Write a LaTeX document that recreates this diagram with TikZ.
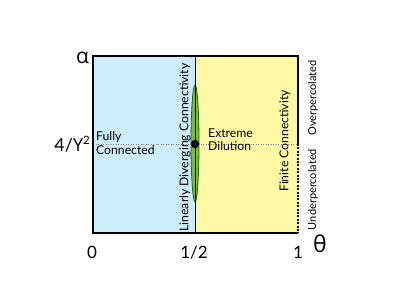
\documentclass[tikz,border=0pt]{standalone}
\usepackage{fontspec}
\setmainfont{Lato}
\newfontfamily\grk{Open Sans}
\usetikzlibrary{shapes.geometric}
\begin{document}
\begin{tikzpicture}[x=1pt,y=-1pt,
  lbl/.style={font=\fontsize{12.2}{13.5}\selectfont, inner sep=0pt},
  small/.style={font=\fontsize{11}{12}\selectfont, inner sep=0pt},
  num/.style={font=\fontsize{17}{18}\selectfont, inner sep=0pt},
  edge/.style={line width=1.2pt, black}]
\useasboundingbox (0,0) rectangle (399,299);
\definecolor{lblue}{HTML}{CDEDFC}
\definecolor{lyellow}{HTML}{FFF9A6}
\definecolor{egreen}{HTML}{7DB842}
\definecolor{dgreen}{HTML}{2F5E1A}
\coordinate (tl) at (93,56);
\coordinate (tm) at (195,56);
\coordinate (tr) at (298,56);
\coordinate (bl) at (93,233);
\coordinate (bm) at (195,233);
\coordinate (br) at (298,233);
\coordinate (ml) at (93,144);
\coordinate (mr) at (298,144);
\fill[lblue] (tl) rectangle (bm);
\fill[lyellow] (tm) rectangle (br);
\draw[gray, dotted, line width=0.5pt] (ml) -- (mr);
\draw[line width=0.6pt] (tm) -- (bm);
\node[draw=dgreen, fill=egreen, line width=0.8pt, ellipse, minimum width=8pt, minimum height=117pt, inner sep=0pt] (ell) at (195,143.5) {};
\draw[line width=0.6pt] (ell.north) -- (ell.south);
\fill[black] (195,144) circle (4.2) coordinate (dot);
\draw[edge] (mr) -- (tr) -- (tl) -- (bl) -- (br);
\draw[black, line width=2.4pt, dash pattern=on 2pt off 1.4pt] (mr) -- (br);
% labels
\node[inner sep=0pt, font=\grk\fontsize{21}{22}\selectfont] (alpha) at (82.5,58) {α};
\node[inner sep=0pt, anchor=base east, font=\fontsize{18}{19}\selectfont] (gam) at (90,152) {4/{\grk Υ}\raisebox{0.42em}{\fontsize{11.5}{12}\selectfont 2}};
\node[lbl, anchor=north west, align=left] (fc) at (96,131.5) {Fully\\Connected};
\node[lbl, anchor=north west, align=left] (ed) at (208,128.5) {Extreme\\Dilution};
\node[lbl, rotate=90] (ldc) at (185,147.5) {Linearly Diverging Connectivity};
\node[lbl, rotate=90] (fin) at (285,141) {Finite Connectivity};
\node[small, rotate=90] (over) at (313,98) {Overpercolated};
\node[small, rotate=90] (under) at (313,189.5) {Underpercolated};
\node[num] (z) at (92,252.5) {0};
\node[num] (h) at (194,252.5) {1/2};
\node[num] (o) at (298,252.5) {1};
\node[inner sep=0pt, font=\grk\fontsize{23}{24}\selectfont] (th) at (320,244) {θ};
\end{tikzpicture}
\end{document}
